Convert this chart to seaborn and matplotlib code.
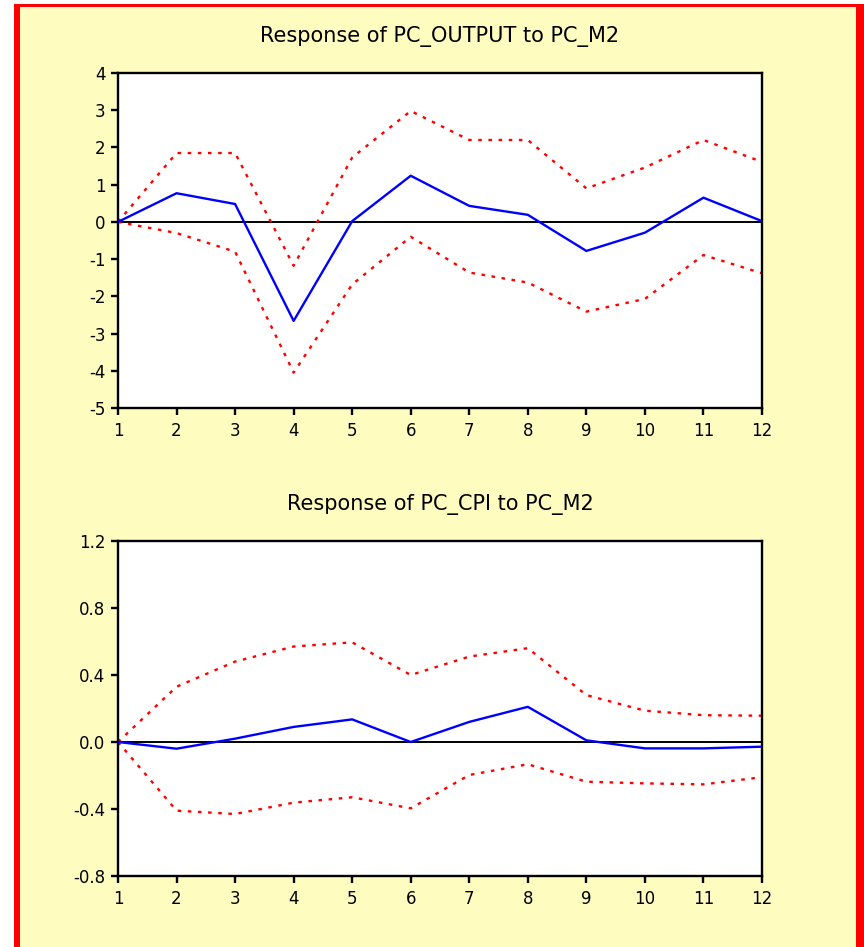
import numpy as np
import pandas as pd
import matplotlib
matplotlib.use("Agg")
import matplotlib.pyplot as plt
from matplotlib.patches import Rectangle
import seaborn as sns

# impulse responses
periods = list(range(1, 13))

output_resp = [0.0, 0.77, 0.48, -2.66, 0.02, 1.24, 0.43, 0.19, -0.78, -0.29, 0.65, 0.02]
output_upper = [0.0, 1.85, 1.85, -1.18, 1.73, 2.98, 2.20, 2.20, 0.90, 1.46, 2.20, 1.61]
output_lower = [0.0, -0.30, -0.80, -4.05, -1.68, -0.40, -1.36, -1.63, -2.41, -2.07, -0.89, -1.38]

cpi_resp = [0.0, -0.04, 0.02, 0.09, 0.135, 0.0, 0.12, 0.21, 0.01, -0.038, -0.038, -0.028]
cpi_upper = [0.0, 0.33, 0.48, 0.57, 0.595, 0.40, 0.51, 0.56, 0.28, 0.187, 0.16, 0.157]
cpi_lower = [0.0, -0.41, -0.43, -0.362, -0.33, -0.396, -0.197, -0.133, -0.237, -0.247, -0.253, -0.21]

titles = ["Response of PC_OUTPUT to PC_M2", "Response of PC_CPI to PC_M2"]
yticks_top = [-5, -4, -3, -2, -1, 0, 1, 2, 3, 4]
yticks_bot = [-0.8, -0.4, 0.0, 0.4, 0.8, 1.2]

sns.set_style("ticks")
plt.rcParams['font.family'] = ['DejaVu Sans']

fig = plt.figure(figsize=(8.64, 9.47), dpi=100, facecolor="white")

# red frame + yellow background
W, H = 864.0, 947.0
fig.patches.append(Rectangle((14 / W, 0), 1 - 14 / W, 1 - 4 / H, transform=fig.transFigure,
                             facecolor="#ff0000", edgecolor="none", zorder=-10))
fig.patches.append(Rectangle((20 / W, 0), (856 - 20) / W, 1 - 7 / H, transform=fig.transFigure,
                             facecolor="#fffcc0", edgecolor="none", zorder=-9))

ax1 = fig.add_axes([118 / W, 1 - 408 / H, (762 - 118) / W, 335 / H])
ax2 = fig.add_axes([118 / W, 1 - 876 / H, (762 - 118) / W, 335 / H])

panels = [
    (ax1, output_resp, output_upper, output_lower, (-5, 4), yticks_top, "{:.0f}"),
    (ax2, cpi_resp, cpi_upper, cpi_lower, (-0.8, 1.2), yticks_bot, "{:.1f}"),
]

for (ax, resp, up, lo, ylim, yt, fmt), title in zip(panels, titles):
    df = pd.DataFrame({"period": periods, "resp": resp, "upper": up, "lower": lo})
    ax.set_facecolor("white")
    ax.axhline(0, color="black", lw=1.4, zorder=1)
    sns.lineplot(data=df, x="period", y="resp", color="#0000ff", lw=1.7, ax=ax, zorder=3)
    for col in ["upper", "lower"]:
        sns.lineplot(data=df, x="period", y=col, color="#ff0000", lw=1.7, ax=ax,
                     dashes=False, zorder=2).lines[-1].set_dashes([1.5, 2.8])
    ax.set_xlim(1, 12)
    ax.set_ylim(*ylim)
    ax.set_xticks(periods)
    ax.set_yticks(yt)
    ax.set_yticklabels([fmt.format(v) for v in yt])
    ax.set_xlabel("")
    ax.set_ylabel("")
    for s in ax.spines.values():
        s.set_linewidth(1.7)
        s.set_color("black")
        s.set_visible(True)
    ax.tick_params(direction="out", length=5, width=1.7, labelsize=12, colors="black", pad=4)
    ax.tick_params(axis="x", pad=5)
    ax.set_title(title, fontsize=15, pad=22, color="black")

fig.savefig("out.png", dpi=100, facecolor=fig.get_facecolor())
